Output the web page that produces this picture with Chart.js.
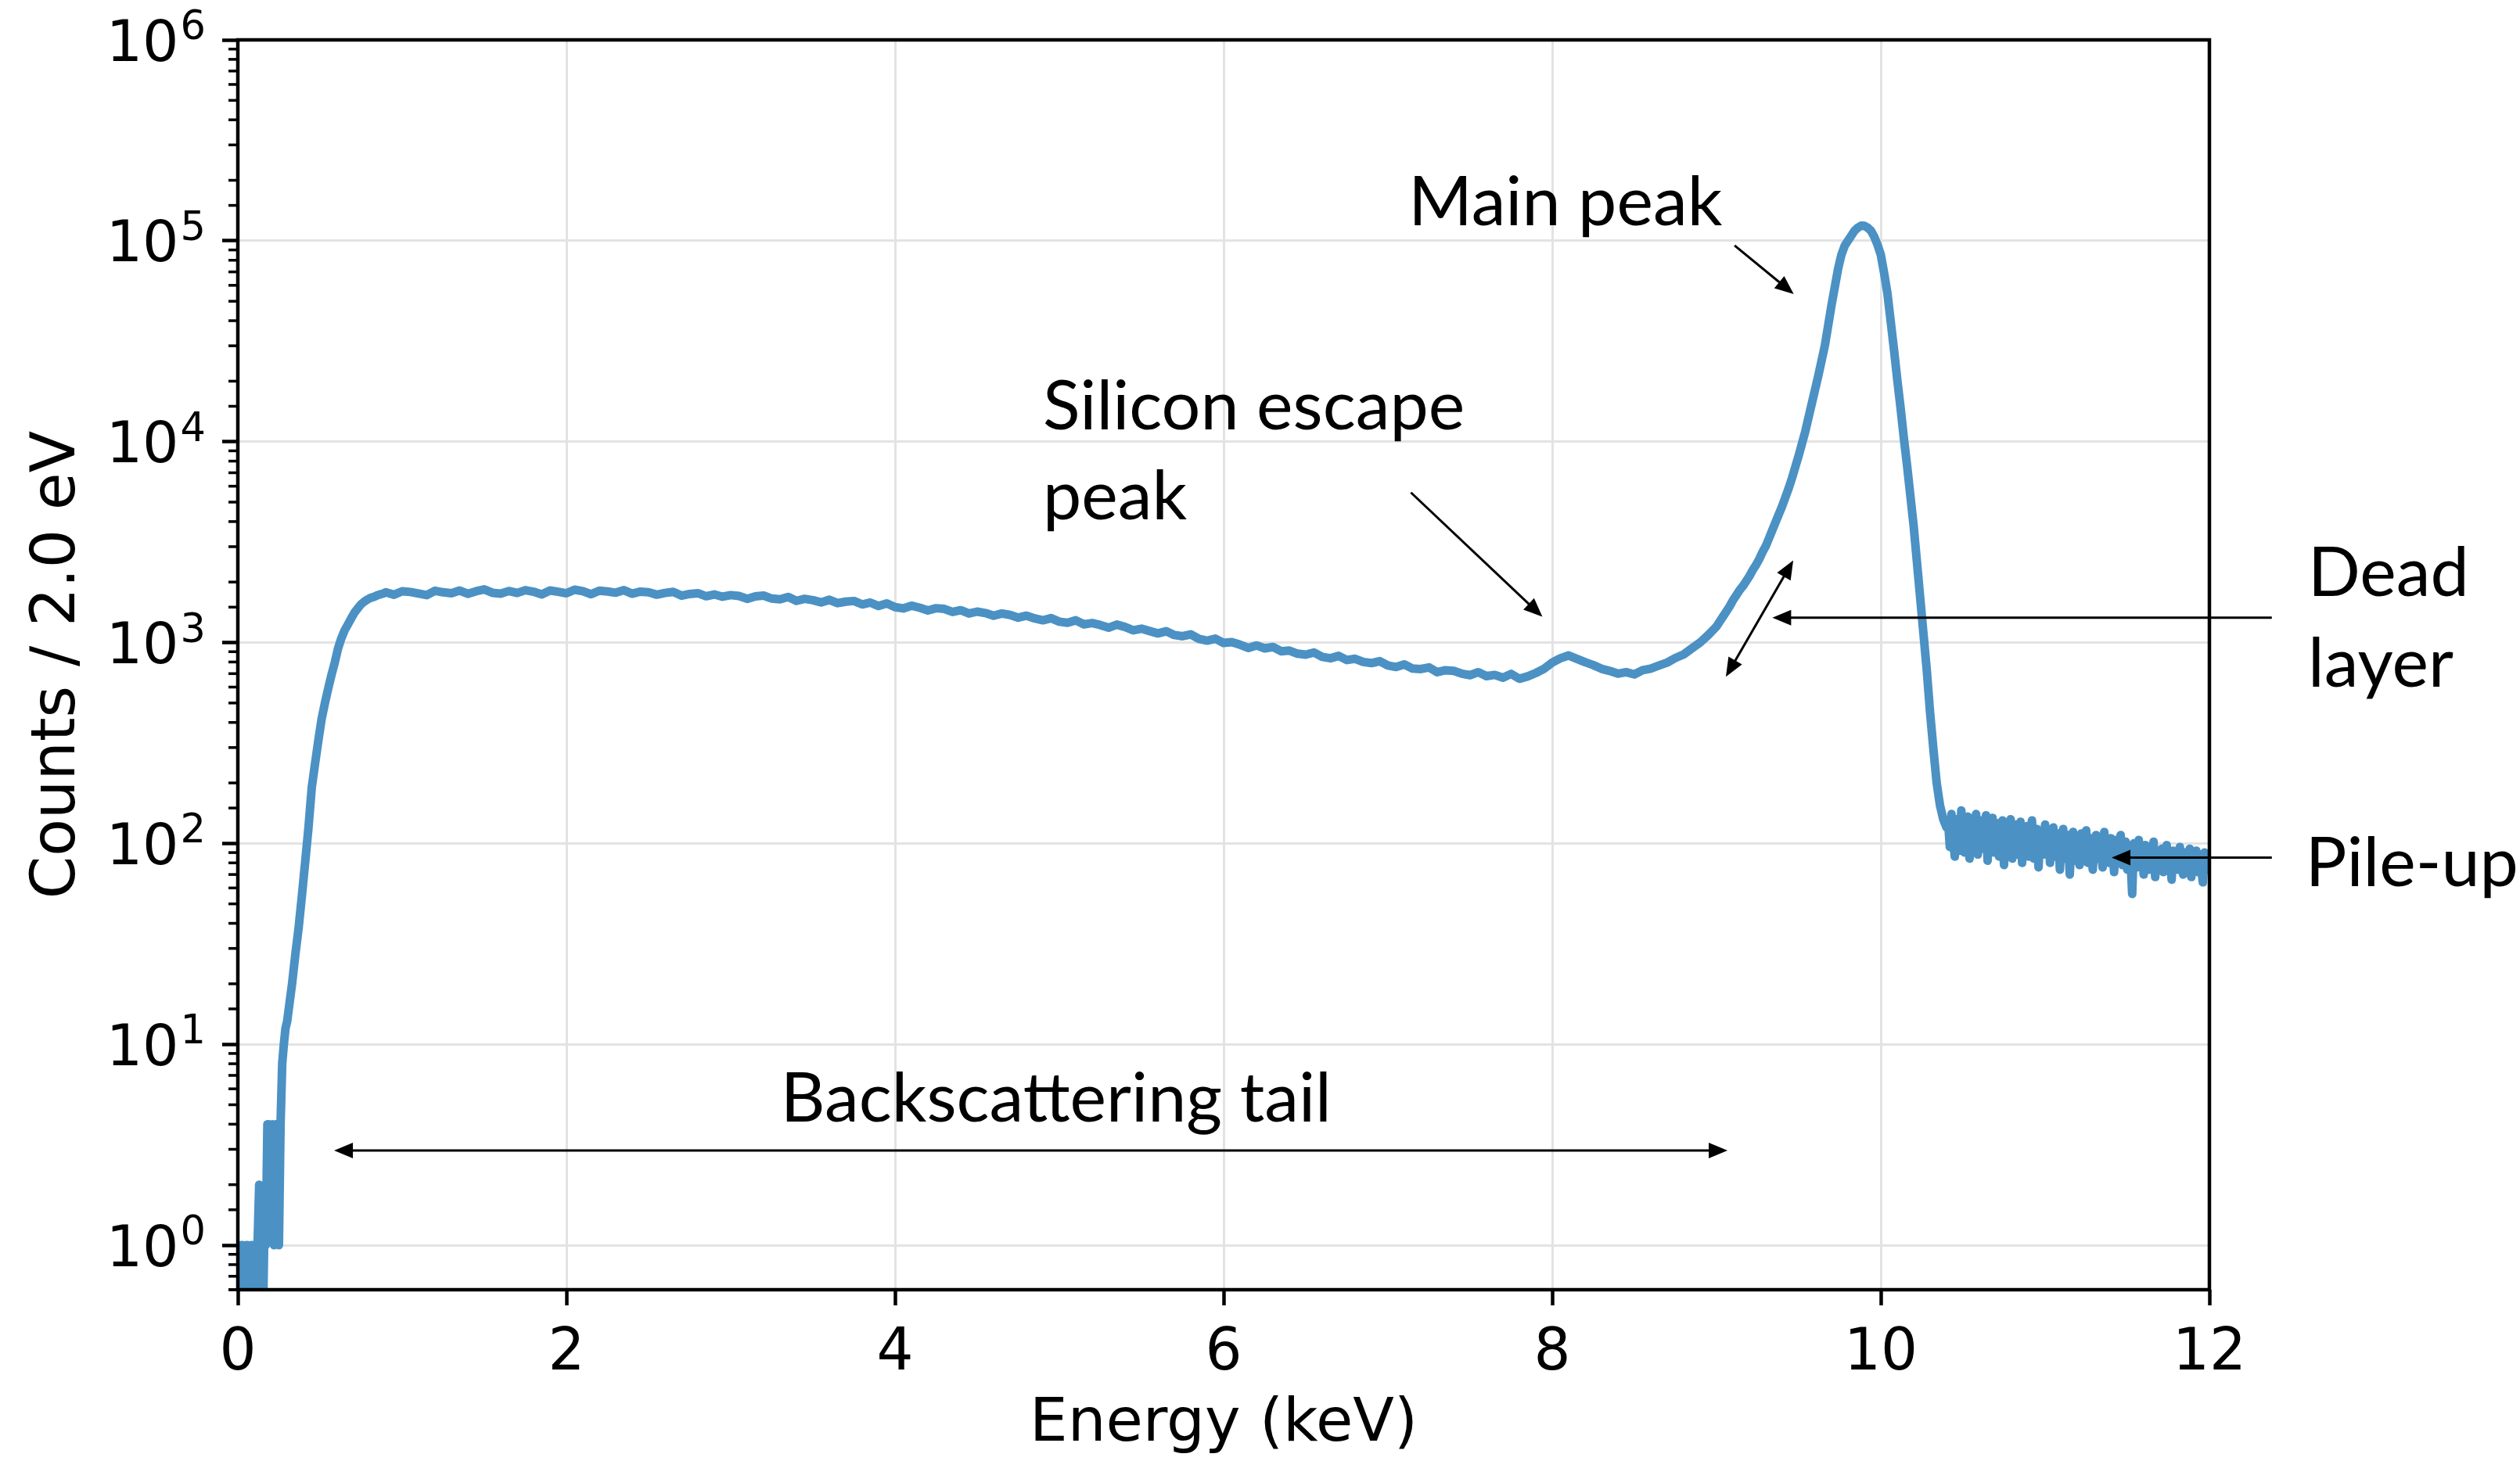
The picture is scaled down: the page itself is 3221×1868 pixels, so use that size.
<!DOCTYPE html>
<html>
<head>
<meta charset="utf-8">
<title>Energy spectrum</title>
<script src="https://cdn.jsdelivr.net/npm/chart.js@4.4.1/dist/chart.umd.min.js"></script>
<style>
  html, body { margin: 0; padding: 0; background: #fff; }
  #wrap { width: 3221px; height: 1868px; }
</style>
</head>
<body>
<div id="wrap"><canvas id="spectrum" width="3221" height="1868"></canvas></div>
<script>
// Spectrum counts per 2.0 eV bin, stored as evenly spaced segments (energy in keV)
const noiseStart = 0.00, noiseStep = 0.01;
const noiseCounts = [0, 0, 1, 1, 0, 1, 1, 0, 1, 1, 0, 1, 1, 2, 1, 0, 1, 1, 4, 4,
                     2, 4, 1, 4, 4, 1, 4, 8, 10, 12, 13];

const riseStart = 0.31, riseStep = 0.02;
const riseCounts = [15, 20, 28, 38, 55, 81, 120, 190, 250, 325,
                    417, 500, 590, 690, 795, 935, 1050, 1150, 1230, 1320,
                    1410, 1480, 1550, 1600, 1640, 1670, 1690, 1720, 1740, 1760];

const tailStart = 0.90, tailStep = 0.05;
const tailCounts = [
  1778, 1730, 1800, 1785, 1752, 1722, 1810, 1778, 1760, 1815,
  1748, 1800, 1838, 1768, 1750, 1805, 1765, 1822, 1790, 1735,
  1815, 1790, 1758, 1832, 1800, 1740, 1812, 1795, 1770, 1822,
  1750, 1792, 1780, 1730, 1765, 1788, 1712, 1745, 1760, 1700,
  1735, 1690, 1722, 1705, 1650, 1698, 1712, 1655, 1640, 1685,
  1612, 1650, 1625, 1585, 1632, 1570, 1598, 1610, 1548, 1580,
  1520, 1565, 1500, 1478, 1525, 1490, 1445, 1482, 1470, 1420,
  1448, 1395, 1425, 1402, 1360, 1395, 1372, 1330, 1360, 1318,
  1290, 1322, 1270, 1255, 1290, 1232, 1250, 1222, 1185, 1228,
  1195, 1150, 1172, 1140, 1110, 1138, 1090, 1075, 1098, 1042,
  1022, 1045, 995, 1005, 975, 940, 968, 935, 950, 905,
  912, 880, 870, 892, 848, 835, 858, 818, 830, 800,
  790, 808, 768, 755, 778, 742, 738, 752, 712, 728,
  722, 700, 688, 712, 680, 690, 668, 698, 660, 678,
  705, 740, 795, 835, 862, 830, 798, 772, 740, 722,
  700, 712, 694, 728, 742, 768, 795, 838, 872, 935,
  1000, 1090
];

const peakStart = 9.00, peakStep = 0.02;
const peakCounts = [
  1202, 1274, 1349, 1429, 1514, 1622, 1718, 1820, 1905, 2018,
  2138, 2291, 2427, 2600, 2818, 3020, 3311, 3631, 3981, 4365,
  4786, 5309, 5888, 6607, 7499, 8511, 9772, 11220, 13183, 15488,
  18197, 21380, 25410, 30200, 38019, 47863, 58884, 72444, 85114, 94406,
  100000, 105925, 112202, 116145, 118850, 118577, 116145, 112202, 104713, 95499,
  85114, 69183, 54954, 39811, 28840, 20417, 14791, 10471, 7586, 5370,
  3802, 2512, 1660, 1096, 724, 447, 295, 200, 155, 132,
  120
];

const pileupStart = 10.41, pileupStep = 0.01;
const pileupCounts = [
  128, 96, 140, 108, 86, 132, 118, 92, 146, 104,
  90, 124, 136, 84, 112, 128, 98, 140, 88, 116,
  130, 94, 108, 138, 82, 120, 102, 134, 90, 112,
  126, 86, 100, 130, 78, 118, 108, 92, 132, 84,
  114, 124, 88, 104, 128, 80, 110, 96, 122, 86,
  106, 130, 84, 98, 118, 76, 112, 100, 88, 124,
  92, 116, 80, 108, 120, 86, 98, 112, 74, 104,
  118, 84, 96, 110, 70, 102, 114, 82, 94, 108,
  78, 112, 92, 100, 116, 80, 96, 106, 74, 98,
  110, 84, 102, 92, 76, 114, 88, 100, 80, 106,
  94, 72, 104, 86, 98, 110, 78, 92, 102, 74,
  96, 84, 56, 100, 88, 76, 104, 82, 94, 70,
  98, 86, 74, 92, 80, 102, 68, 90, 84, 76,
  94, 72, 88, 98, 78, 86, 66, 92, 80, 88,
  74, 96, 82, 70, 90, 84, 76, 94, 68, 86,
  80, 92, 72, 88, 78, 64, 90, 82, 74, 86
];

// Axis ticks
const energyTicks = [0, 2, 4, 6, 8, 10, 12];
const countDecades = [0, 1, 2, 3, 4, 5, 6];
const countMin = 0.6, countMax = 1e6;
// empty bins cannot sit on a log axis; they are drawn below its floor
const emptyBinLevel = 0.3;

const axisFont = "'DejaVu Sans', sans-serif";
const noteFont = "Lato, 'Open Sans', sans-serif";
const lineBlue = '#4b91c4';

const spectrum = [];
function addSegment(start, step, counts) {
  counts.forEach((c, i) => spectrum.push({
    x: +(start + i * step).toFixed(3),
    y: c > 0 ? c : emptyBinLevel
  }));
}
addSegment(noiseStart, noiseStep, noiseCounts);
addSegment(riseStart, riseStep, riseCounts);
addSegment(tailStart, tailStep, tailCounts);
addSegment(peakStart, peakStep, peakCounts);
addSegment(pileupStart, pileupStep, pileupCounts);

const isDecade = v => {
  const e = Math.log10(v);
  return Math.abs(e - Math.round(e)) < 1e-6 && countDecades.includes(Math.round(e));
};

// Labels and arrows, placed in (keV, counts)
const noteTexts = [
  { text: 'Main peak', e: 8.08, c: 119700, align: 'center' },
  { text: 'Silicon escape', e: 4.90, c: 11530, align: 'left' },
  { text: 'peak', e: 4.90, c: 4120, align: 'left' },
  { text: 'Dead', e: 12.60, c: 1700, align: 'left' },
  { text: 'layer', e: 12.60, c: 605, align: 'left' },
  { text: 'Pile-up', e: 12.585, c: 61, align: 'left' },
  { text: 'Backscattering tail', e: 4.98, c: 4.12, align: 'center' }
];
const noteArrows = [
  { from: [9.11, 94800], to: [9.47, 54300], both: false },
  { from: [7.14, 5580], to: [7.94, 1343], both: false },
  { from: [9.057, 675], to: [9.467, 2564], both: true },
  { from: [12.38, 1330], to: [9.34, 1330], both: false },
  { from: [12.38, 85], to: [11.405, 85], both: false },
  { from: [0.586, 2.96], to: [9.067, 2.96], both: true }
];

function arrowHead(ctx, x1, y1, x2, y2, len, half) {
  const a = Math.atan2(y2 - y1, x2 - x1);
  ctx.beginPath();
  ctx.moveTo(x2, y2);
  ctx.lineTo(x2 - len * Math.cos(a) + half * Math.sin(a), y2 - len * Math.sin(a) - half * Math.cos(a));
  ctx.lineTo(x2 - len * Math.cos(a) - half * Math.sin(a), y2 - len * Math.sin(a) + half * Math.cos(a));
  ctx.closePath();
  ctx.fill();
}

function drawArrow(ctx, x1, y1, x2, y2, both) {
  const len = 24, half = 10;
  const d = Math.hypot(x2 - x1, y2 - y1);
  const ux = (x2 - x1) / d, uy = (y2 - y1) / d;
  const sx = both ? x1 + ux * len * 0.8 : x1, sy = both ? y1 + uy * len * 0.8 : y1;
  ctx.beginPath();
  ctx.moveTo(sx, sy);
  ctx.lineTo(x2 - ux * len * 0.8, y2 - uy * len * 0.8);
  ctx.stroke();
  arrowHead(ctx, x1, y1, x2, y2, len, half);
  if (both) arrowHead(ctx, x2, y2, x1, y1, len, half);
}

const overlay = {
  id: 'overlay',
  afterDatasetsDraw(chart) {
    const { ctx, chartArea: a, scales: { x, y } } = chart;
    ctx.save();

    // minor ticks on the log axis
    ctx.strokeStyle = '#000';
    ctx.lineWidth = 3.5;
    y.ticks.forEach(t => {
      if (isDecade(t.value)) return;
      const py = y.getPixelForValue(t.value);
      if (py < a.top - 1 || py > a.bottom + 1) return;
      ctx.beginPath();
      ctx.moveTo(a.left, py);
      ctx.lineTo(a.left - 12, py);
      ctx.stroke();
    });

    // decade labels as 10 with a raised exponent
    ctx.fillStyle = '#000';
    ctx.textBaseline = 'alphabetic';
    ctx.textAlign = 'right';
    countDecades.forEach(n => {
      const py = y.getPixelForValue(Math.pow(10, n));
      const right = a.left - 41;
      ctx.font = `51px ${axisFont}`;
      const expText = String(n);
      const w = ctx.measureText(expText).width;
      ctx.fillText(expText, right, py - 1);
      ctx.font = `73px ${axisFont}`;
      ctx.fillText('10', right - w - 2, py + 26.5);
    });

    // frame
    ctx.lineWidth = 4.5;
    ctx.strokeRect(a.left, a.top, a.right - a.left, a.bottom - a.top);

    // annotations
    ctx.font = `88px ${noteFont}`;
    noteTexts.forEach(n => {
      ctx.textAlign = n.align;
      ctx.fillText(n.text, x.getPixelForValue(n.e), y.getPixelForValue(n.c));
    });
    ctx.lineWidth = 3;
    noteArrows.forEach(ar => {
      drawArrow(ctx,
        x.getPixelForValue(ar.from[0]), y.getPixelForValue(ar.from[1]),
        x.getPixelForValue(ar.to[0]), y.getPixelForValue(ar.to[1]), ar.both);
    });

    ctx.restore();
  }
};

new Chart(document.getElementById('spectrum'), {
  type: 'line',
  data: {
    datasets: [{
      data: spectrum,
      borderColor: lineBlue,
      borderWidth: 11,
      borderJoinStyle: 'round',
      pointRadius: 0,
      tension: 0,
      fill: false,
      clip: 0
    }]
  },
  plugins: [overlay],
  options: {
    responsive: false,
    devicePixelRatio: 1,
    animation: false,
    events: [],
    layout: { padding: { top: 51, right: 397, left: 0, bottom: 0 } },
    plugins: { legend: { display: false }, tooltip: { enabled: false } },
    scales: {
      x: {
        type: 'linear',
        min: 0,
        max: 12,
        afterBuildTicks: scale => { scale.ticks = energyTicks.map(v => ({ value: v })); },
        afterFit: scale => { scale.height = 219; },
        grid: {
          color: '#e3e3e3',
          lineWidth: 3,
          tickLength: 20,
          tickColor: '#000',
          tickWidth: 4.5
        },
        border: { display: false },
        ticks: {
          color: '#000',
          font: { family: axisFont, size: 74 },
          padding: 18,
          maxRotation: 0
        },
        title: {
          display: true,
          text: 'Energy (keV)',
          color: '#000',
          font: { family: axisFont, size: 77 },
          padding: { top: 0, bottom: 0 }
        }
      },
      y: {
        type: 'logarithmic',
        min: countMin,
        max: countMax,
        afterFit: scale => { scale.width = 304; },
        grid: {
          color: ctx => isDecade(ctx.tick.value) ? '#e3e3e3' : 'rgba(0,0,0,0)',
          lineWidth: 3,
          tickLength: 20,
          tickColor: ctx => isDecade(ctx.tick.value) ? '#000' : 'rgba(0,0,0,0)',
          tickWidth: 4.5
        },
        border: { display: false },
        ticks: {
          autoSkip: false,
          callback: () => '',
          font: { family: axisFont, size: 73 }
        },
        title: {
          display: true,
          text: 'Counts / 2.0 eV',
          color: '#000',
          font: { family: axisFont, size: 78 },
          padding: { top: 28, bottom: 0 }
        }
      }
    }
  }
});
</script>
</body>
</html>
